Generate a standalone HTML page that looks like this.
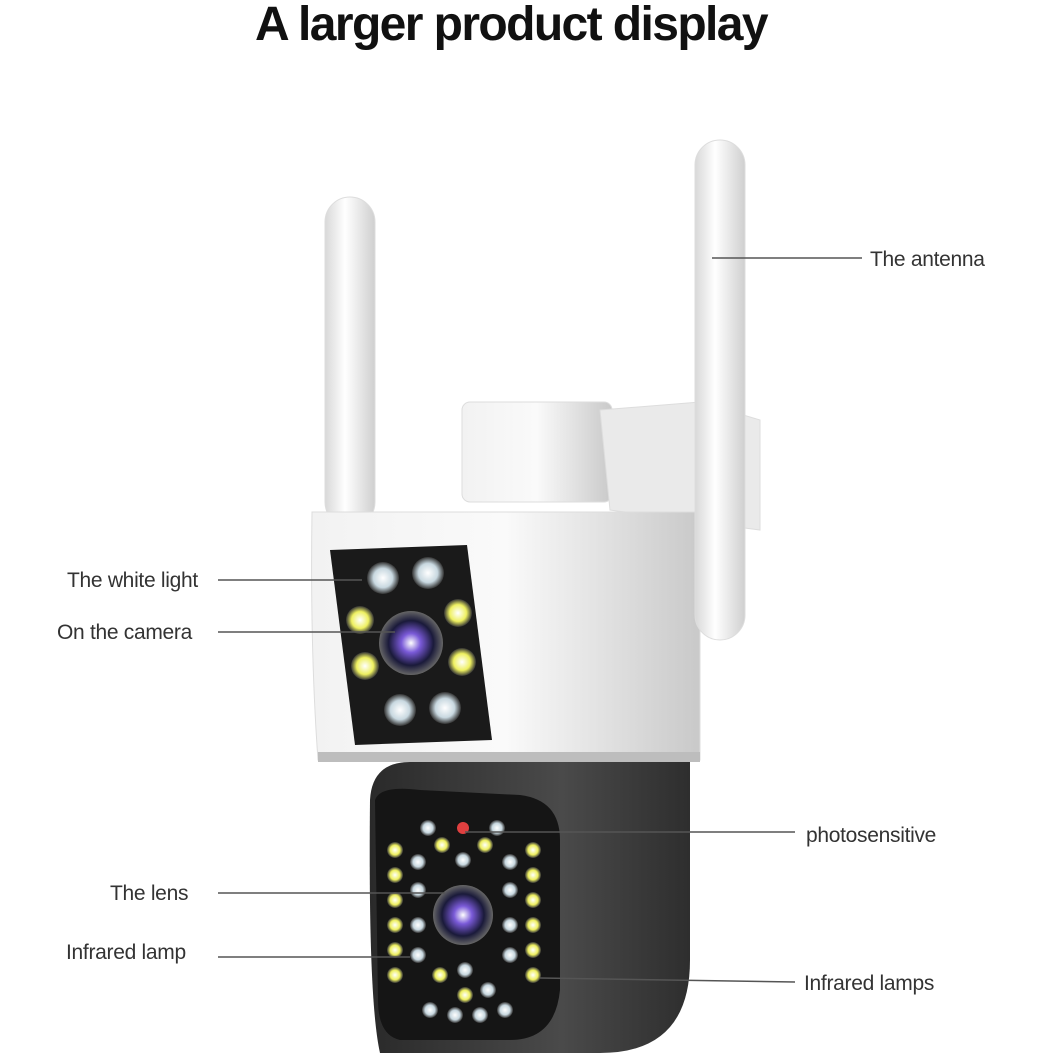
<!DOCTYPE html>
<html><head><meta charset="utf-8"><style>
html,body{margin:0;padding:0;background:#fff;}
svg{display:block}
text{font-family:"Liberation Sans",sans-serif;fill:#333;}
</style></head><body>
<svg width="1053" height="1053" viewBox="0 0 1053 1053" xmlns="http://www.w3.org/2000/svg">
<defs>
<linearGradient id="ant" x1="0" x2="1"><stop offset="0" stop-color="#d8d8d8"/><stop offset="0.4" stop-color="#fff"/><stop offset="1" stop-color="#cfcfcf"/></linearGradient>
<linearGradient id="body" x1="0" x2="1"><stop offset="0" stop-color="#f2f2f2"/><stop offset="0.5" stop-color="#fafafa"/><stop offset="1" stop-color="#c9c9c9"/></linearGradient>
<linearGradient id="dome" x1="0" x2="1"><stop offset="0" stop-color="#2a2a2a"/><stop offset="0.6" stop-color="#4a4a4a"/><stop offset="1" stop-color="#2e2e2e"/></linearGradient>
<radialGradient id="lens"><stop offset="0" stop-color="#fff"/><stop offset="0.3" stop-color="#7a5ad8"/><stop offset="0.7" stop-color="#1a1a3a"/><stop offset="1" stop-color="#666"/></radialGradient>
<radialGradient id="led"><stop offset="0" stop-color="#fff"/><stop offset="0.6" stop-color="#c8d8e0"/><stop offset="1" stop-color="#333"/></radialGradient>
<radialGradient id="yled"><stop offset="0" stop-color="#fff"/><stop offset="0.6" stop-color="#eef060"/><stop offset="1" stop-color="#333"/></radialGradient>
</defs>
<text x="511" y="40" text-anchor="middle" font-size="48" font-weight="bold" style="fill:#111;letter-spacing:-1.6px">A larger product display</text>

<rect x="325" y="197" width="50" height="330" rx="25" fill="url(#ant)" stroke="#ddd"/>
<rect x="462" y="402" width="150" height="100" rx="8" fill="url(#body)" stroke="#ddd"/>
<path d="M600 410 L700 402 L760 420 L760 530 L610 510 Z" fill="#eaeaea" stroke="#ddd"/>
<path d="M312 512 L700 512 L700 760 L318 760 Q310 650 312 512 Z" fill="url(#body)" stroke="#ddd"/>
<rect x="695" y="140" width="50" height="500" rx="25" fill="url(#ant)" stroke="#ddd"/>
<path d="M330 550 L467 545 L492 740 L355 745 Z" fill="#1a1a1a"/>
<g>
<circle cx="383" cy="578" r="16" fill="url(#led)"/><circle cx="428" cy="573" r="16" fill="url(#led)"/>
<circle cx="360" cy="620" r="14" fill="url(#yled)"/><circle cx="458" cy="613" r="14" fill="url(#yled)"/>
<circle cx="365" cy="666" r="14" fill="url(#yled)"/><circle cx="462" cy="662" r="14" fill="url(#yled)"/>
<circle cx="400" cy="710" r="16" fill="url(#led)"/><circle cx="445" cy="708" r="16" fill="url(#led)"/>
<circle cx="411" cy="643" r="32" fill="url(#lens)"/>
</g>
<rect x="318" y="752" width="382" height="10" fill="#bdbdbd"/>
<path d="M370 800 Q372 762 410 762 L690 762 L690 960 Q690 1053 600 1053 L380 1053 Q368 1000 370 800 Z" fill="url(#dome)"/>
<path d="M375 800 Q380 785 420 790 L520 795 Q560 800 560 840 L560 990 Q555 1040 510 1040 L400 1040 Q378 1035 378 1000 Z" fill="#151515"/>
<g fill="url(#yled)">
<circle cx="395" cy="850" r="8"/><circle cx="533" cy="850" r="8"/><circle cx="395" cy="875" r="8"/><circle cx="533" cy="875" r="8"/>
<circle cx="395" cy="900" r="8"/><circle cx="533" cy="900" r="8"/><circle cx="395" cy="925" r="8"/><circle cx="533" cy="925" r="8"/>
<circle cx="395" cy="950" r="8"/><circle cx="533" cy="950" r="8"/><circle cx="395" cy="975" r="8"/><circle cx="533" cy="975" r="8"/>
<circle cx="442" cy="845" r="8"/><circle cx="485" cy="845" r="8"/><circle cx="440" cy="975" r="8"/><circle cx="465" cy="995" r="8"/>
</g>
<g fill="url(#led)">
<circle cx="428" cy="828" r="8"/><circle cx="497" cy="828" r="8"/><circle cx="418" cy="862" r="8"/><circle cx="510" cy="862" r="8"/>
<circle cx="463" cy="860" r="8"/><circle cx="418" cy="890" r="8"/><circle cx="510" cy="890" r="8"/>
<circle cx="418" cy="925" r="8"/><circle cx="510" cy="925" r="8"/><circle cx="418" cy="955" r="8"/><circle cx="510" cy="955" r="8"/>
<circle cx="430" cy="1010" r="8"/><circle cx="455" cy="1015" r="8"/><circle cx="480" cy="1015" r="8"/><circle cx="505" cy="1010" r="8"/>
<circle cx="488" cy="990" r="8"/><circle cx="465" cy="970" r="8"/>
</g>
<circle cx="463" cy="828" r="6" fill="#e04040"/>
<circle cx="463" cy="915" r="30" fill="url(#lens)"/>

<g stroke="#555" stroke-width="1.5">
<line x1="712" y1="258" x2="862" y2="258"/>
<line x1="218" y1="580" x2="362" y2="580"/>
<line x1="218" y1="632" x2="395" y2="632"/>
<line x1="465" y1="832" x2="795" y2="832"/>
<line x1="218" y1="893" x2="445" y2="893"/>
<line x1="218" y1="957" x2="410" y2="957"/>
<line x1="540" y1="978" x2="795" y2="982"/>
</g>
<g font-size="21" style="letter-spacing:-0.3px">
<text x="870" y="266">The antenna</text>
<text x="67" y="587">The white light</text>
<text x="57" y="639">On the camera</text>
<text x="806" y="842">photosensitive</text>
<text x="110" y="900">The lens</text>
<text x="66" y="959">Infrared lamp</text>
<text x="804" y="990">Infrared lamps</text>
</g>
</svg>
</body></html>
